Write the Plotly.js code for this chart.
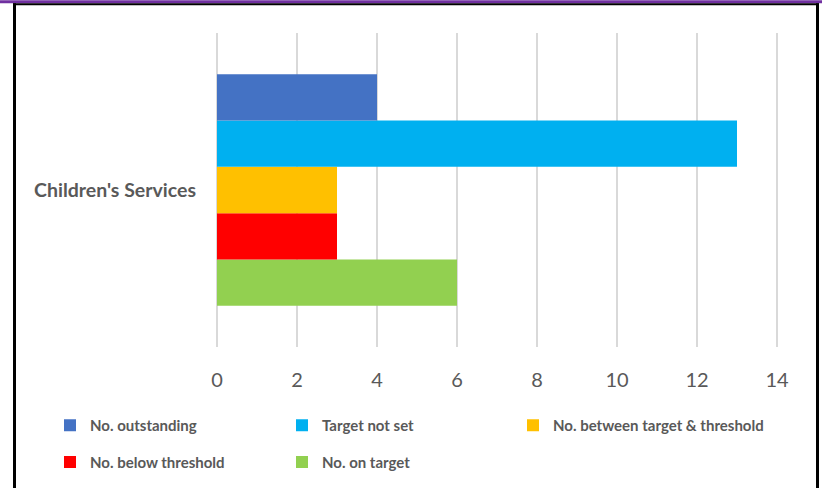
<!DOCTYPE html>
<html>
<head>
<meta charset="utf-8">
<script src="https://cdn.plot.ly/plotly-3.0.1.min.js"></script>
<style>html,body{margin:0;padding:0;background:#fff;}#chart{width:822px;height:491px;}</style>
</head>
<body>
<div id="chart"></div>
<script>
const categories = ["Children's Services"];
const seriesNames = ["No. outstanding", "Target not set", "No. between target & threshold", "No. below threshold", "No. on target"];
const seriesValues = [[4], [13], [3], [3], [6]];
const seriesColors = ["#4472c4", "#00b0f0", "#ffc000", "#ff0000", "#92d050"];
const xTickVals = [0, 2, 4, 6, 8, 10, 12, 14];

const FONT = "Lato, 'Open Sans', sans-serif";
const legendIds = ["legend", "legend2", "legend3", "legend4", "legend5"];
// legend entry text positions (pixels) in reading order
const legendTextX = [90, 322, 553, 90, 322];
const legendRowY = [428, 428, 428, 465, 465];

const traces = [];
for (let i = seriesNames.length - 1; i >= 0; i--) {
  traces.push({
    type: 'bar', orientation: 'h',
    name: seriesNames[i], y: categories, x: seriesValues[i],
    marker: {color: seriesColors[i]},
    legend: legendIds[i]
  });
}

// pixel -> paper helpers (plot area: x 215..779, y 33..349)
const L = 215, W = 564, T = 33, H = 316;
const px = v => (v - L) / W;
const py = v => (T + H - v) / H;

const layout = {
  width: 822, height: 491,
  margin: {l: L, r: 822 - L - W, t: T, b: 491 - T - H},
  paper_bgcolor: '#ffffff', plot_bgcolor: '#ffffff',
  barmode: 'group', bargap: 0.262, bargroupgap: 0,
  showlegend: true,
  xaxis: {
    range: [-0.05, 14.05], tickvals: xTickVals, ticktext: xTickVals.map(String),
    showgrid: true, gridcolor: '#d9d9d9', gridwidth: 2,
    zeroline: true, zerolinecolor: '#d9d9d9', zerolinewidth: 2,
    showline: false, ticks: '',
    ticklabelstandoff: 19,
    tickfont: {family: FONT, size: 20, color: '#595959'},
    fixedrange: true
  },
  yaxis: {
    type: 'category', showgrid: false, zeroline: false, showline: false, ticks: '',
    ticklabelstandoff: 18,
    tickfont: {family: FONT, size: 19.5, color: '#595959', weight: 700},
    fixedrange: true
  },
  shapes: [
    {type: 'rect', xref: 'paper', yref: 'paper', x0: px(0), x1: px(822), y0: py(3), y1: py(0), fillcolor: '#7030a0', line: {width: 0}},
    {type: 'rect', xref: 'paper', yref: 'paper', x0: px(13), x1: px(819), y0: py(5), y1: py(3), fillcolor: '#000000', line: {width: 0}},
    {type: 'rect', xref: 'paper', yref: 'paper', x0: px(13), x1: px(16), y0: py(491), y1: py(3), fillcolor: '#000000', line: {width: 0}},
    {type: 'rect', xref: 'paper', yref: 'paper', x0: px(816), x1: px(819), y0: py(491), y1: py(3), fillcolor: '#000000', line: {width: 0}}
  ]
};

legendIds.forEach((id, i) => {
  layout[id] = {
    x: px(legendTextX[i] - 40), y: py(legendRowY[i]),
    xanchor: 'left', yanchor: 'middle', orientation: 'h',
    font: {family: FONT, size: 15, color: '#595959', weight: 700},
    bgcolor: 'rgba(0,0,0,0)', itemclick: false
  };
});

Plotly.newPlot('chart', traces, layout, {displayModeBar: false, staticPlot: true});
</script>
</body>
</html>
